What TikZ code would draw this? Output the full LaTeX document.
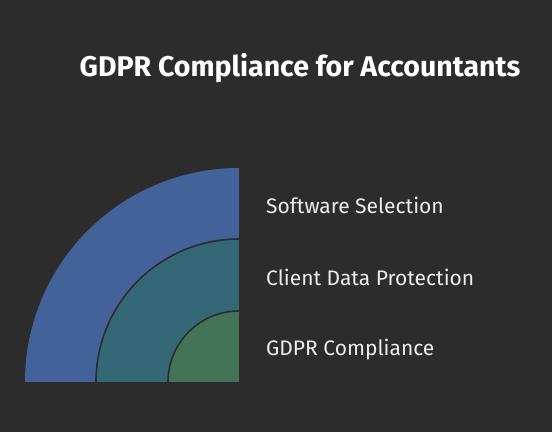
\documentclass[tikz,border=0pt]{standalone}
\usepackage{fontspec}
\setmainfont{Fira Sans}
\definecolor{bg}{HTML}{2C2C2C}
\definecolor{ringA}{HTML}{43629A}
\definecolor{ringB}{HTML}{356877}
\definecolor{ringC}{HTML}{437458}
\begin{document}
\begin{tikzpicture}[x=1pt,y=-1pt,
  ring/.style={draw=bg,line width=1.6pt},
  lbl/.style={anchor=west,text=white!93!black,font=\fontsize{21}{25}\selectfont,inner sep=0pt},
  ttl/.style={text=white,font=\bfseries\fontsize{28.5}{33}\selectfont,inner sep=0pt}]
\fill[bg] (0,0) rectangle (552,432);
\useasboundingbox (0,0) rectangle (552,432);
\coordinate (c) at (239,382);
\fill[ringA] (c) -- ++(-214,0) arc[start angle=180,end angle=270,radius=214] -- cycle;
\fill[ringB] (c) -- ++(-143,0) arc[start angle=180,end angle=270,radius=143] -- cycle;
\draw[ring] (c) ++(-143,0) arc[start angle=180,end angle=270,radius=143];
\fill[ringC] (c) -- ++(-71,0) arc[start angle=180,end angle=270,radius=71] -- cycle;
\draw[ring] (c) ++(-71,0) arc[start angle=180,end angle=270,radius=71];
\fill[bg] (239,160) rectangle (242,390);
\fill[bg] (20,382) rectangle (245,390);
\node[ttl] (title) at (300,68) {GDPR Compliance for Accountants};
\node[lbl] (l1) at (266,205) {Software Selection};
\node[lbl] (l2) at (266,277) {Client Data Protection};
\node[lbl] (l3) at (266,350) {GDPR Compliance};
\end{tikzpicture}
\end{document}
